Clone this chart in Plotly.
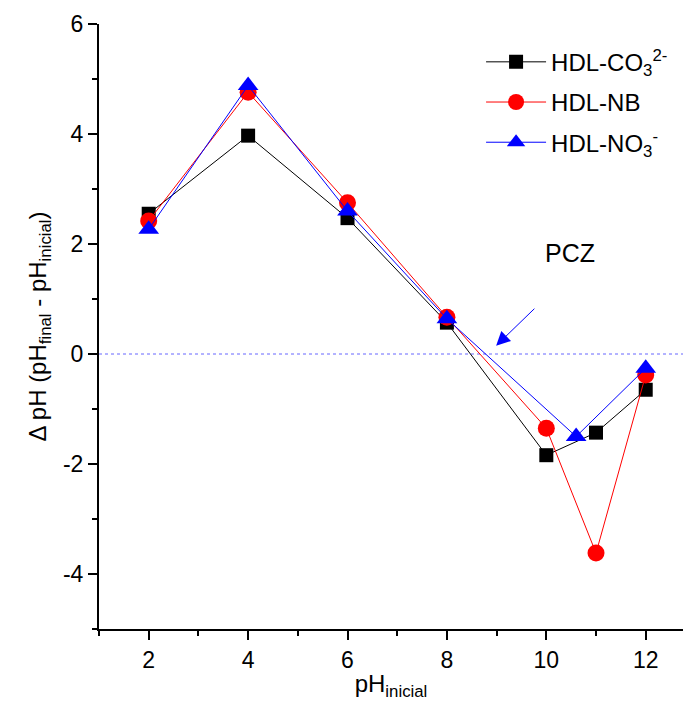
import plotly.graph_objects as go

# Data
x_co3 = [2, 4, 6, 8, 10, 11, 12]
y_co3 = [2.55, 3.97, 2.47, 0.57, -1.84, -1.43, -0.65]

x_nb = [2, 4, 6, 8, 10, 11, 12]
y_nb = [2.42, 4.76, 2.75, 0.67, -1.35, -3.62, -0.38]

x_no3 = [2, 4, 6, 8, 10.6, 12]
y_no3 = [2.27, 4.88, 2.60, 0.64, -1.50, -0.26]

x_range = [1, 12.75]
y_range = [-5, 6]
x_ticks = [2, 4, 6, 8, 10, 12]
y_ticks = [-4, -2, 0, 2, 4, 6]
y_ticktext = ["-4", "-2", "0", "2", "4", "6"]

FONT = "Liberation Sans, Arial, sans-serif"

fig = go.Figure()

# zero reference line
fig.add_trace(go.Scatter(x=x_range, y=[0, 0], mode="lines",
                         line=dict(color="#6666ff", width=1, dash="dot"),
                         showlegend=False, hoverinfo="skip"))

fig.add_trace(go.Scatter(x=x_co3, y=y_co3, mode="lines+markers",
                         name="HDL-CO<sub>3</sub><sup>2-</sup>", legendgroup="a",
                         line=dict(color="black", width=1),
                         marker=dict(symbol="square", size=14, color="black")))
fig.add_trace(go.Scatter(x=x_nb, y=y_nb, mode="lines+markers",
                         name="HDL-NB", legendgroup="b",
                         line=dict(color="red", width=1),
                         marker=dict(symbol="circle", size=17, color="red")))
fig.add_trace(go.Scatter(x=x_no3, y=y_no3, mode="lines+markers",
                         name="HDL-NO<sub>3</sub><sup>-</sup>", legendgroup="c",
                         line=dict(color="blue", width=1),
                         marker=dict(symbol="triangle-up", size=18, color="blue")))

# PCZ annotation with arrow
fig.add_annotation(x=10.48, y=1.84, text="PCZ", showarrow=False,
                   font=dict(family=FONT, size=25, color="black"))
fig.add_annotation(x=8.99, y=0.15, ax=9.79, ay=0.85, axref="x", ayref="y",
                   xref="x", yref="y", text="", showarrow=True,
                   arrowhead=2, arrowsize=2.8, arrowwidth=1, arrowcolor="blue")

fig.update_layout(
    width=683, height=717,
    margin=dict(l=99, r=0, t=24, b=88),
    plot_bgcolor="white", paper_bgcolor="white",
    font=dict(family=FONT, size=23, color="black"),
    showlegend=True,
    legend=dict(x=0.983, y=0.974, xanchor="right", yanchor="top",
                bgcolor="rgba(0,0,0,0)", font=dict(size=24),
                itemwidth=60, tracegroupgap=6),
    xaxis=dict(range=x_range, tickvals=x_ticks, showgrid=False, zeroline=False,
               showline=True, linecolor="black", linewidth=2,
               ticks="outside", ticklen=9, tickwidth=2, tickcolor="black",
               minor=dict(dtick=1, tick0=1, ticks="outside", ticklen=5,
                          tickwidth=2, tickcolor="black", showgrid=False),
               title=dict(text="pH<sub>inicial</sub>", font=dict(size=24),
                          standoff=4)),
    yaxis=dict(range=y_range, tickvals=y_ticks, ticktext=y_ticktext,
               showgrid=False, zeroline=False,
               showline=True, linecolor="black", linewidth=2,
               ticks="outside", ticklen=9, tickwidth=2, tickcolor="black",
               minor=dict(dtick=1, tick0=-5, ticks="outside", ticklen=5,
                          tickwidth=2, tickcolor="black", showgrid=False),
               title=dict(text="Δ pH (pH<sub>final</sub> - pH<sub>inicial</sub>)",
                          font=dict(size=24), standoff=10)),
)

fig.write_html("out.html")
